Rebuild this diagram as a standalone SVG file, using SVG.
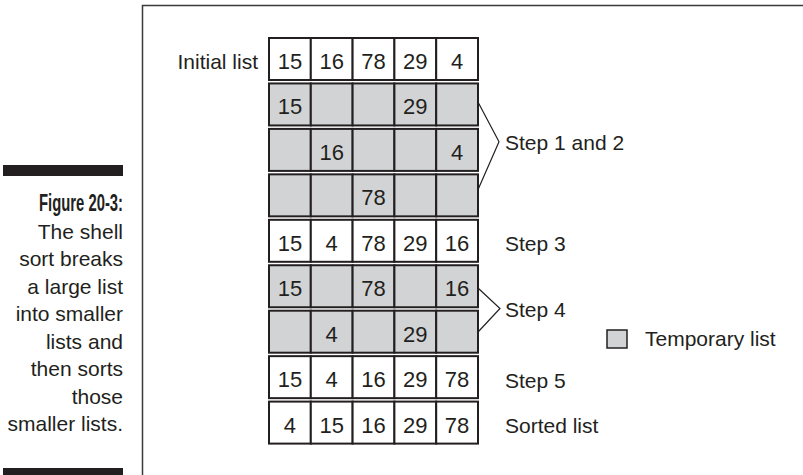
<svg xmlns="http://www.w3.org/2000/svg" width="803" height="475" viewBox="0 0 803 475">
<style>
  text { font-family: "Liberation Sans", Arial, sans-serif; fill: #231f20; }
  .num { font-size: 22px; text-anchor: middle; }
  .lbl { font-size: 21px; }
  .cap { font-size: 21px; text-anchor: end; }
  .capb { font-size: 23px; text-anchor: end; font-weight: bold; }
  .cell { fill: #ffffff; stroke: #231f20; stroke-width: 2; }
  .tmp { fill: #d1d3d4; stroke: #231f20; stroke-width: 2; }
  .br { fill: none; stroke: #231f20; stroke-width: 1.2; }
  .bar { fill: #231f20; }
</style>
<rect x="0" y="0" width="803" height="475" fill="#ffffff"/>
<rect x="142.5" y="5.5" width="700" height="500" fill="none" stroke="#3a3a3a" stroke-width="1.5"/>

<g id="caption">
  <rect class="bar" x="3" y="165" width="120" height="11"/>
  <rect class="bar" x="3" y="468" width="120" height="10"/>
  <text class="capb" x="123" y="211" textLength="84" lengthAdjust="spacingAndGlyphs">Figure 20-3:</text>
  <text class="cap" x="123" y="238.5">The shell</text>
  <text class="cap" x="123" y="266">sort breaks</text>
  <text class="cap" x="123" y="293.5">a large list</text>
  <text class="cap" x="123" y="321">into smaller</text>
  <text class="cap" x="123" y="348.5">lists and</text>
  <text class="cap" x="123" y="376">then sorts</text>
  <text class="cap" x="123" y="403.5">those</text>
  <text class="cap" x="123" y="431">smaller lists.</text>
</g>

<g id="row-initial">
  <text class="lbl" x="258" y="69" text-anchor="end">Initial list</text>
  <rect class="cell" x="269" y="38" width="41.8" height="42"/>
  <rect class="cell" x="310.8" y="38" width="41.8" height="42"/>
  <rect class="cell" x="352.6" y="38" width="41.8" height="42"/>
  <rect class="cell" x="394.4" y="38" width="41.8" height="42"/>
  <rect class="cell" x="436.2" y="38" width="41.8" height="42"/>
  <text class="num" x="289.9" y="69">15</text>
  <text class="num" x="331.7" y="69">16</text>
  <text class="num" x="373.5" y="69">78</text>
  <text class="num" x="415.3" y="69">29</text>
  <text class="num" x="457.1" y="69">4</text>
</g>

<g id="row-temp1">
  <rect class="tmp" x="269" y="83.45" width="41.8" height="42"/>
  <rect class="tmp" x="310.8" y="83.45" width="41.8" height="42"/>
  <rect class="tmp" x="352.6" y="83.45" width="41.8" height="42"/>
  <rect class="tmp" x="394.4" y="83.45" width="41.8" height="42"/>
  <rect class="tmp" x="436.2" y="83.45" width="41.8" height="42"/>
  <text class="num" x="289.9" y="114.45">15</text>
  <text class="num" x="415.3" y="114.45">29</text>
</g>

<g id="row-temp2">
  <rect class="tmp" x="269" y="128.9" width="41.8" height="42"/>
  <rect class="tmp" x="310.8" y="128.9" width="41.8" height="42"/>
  <rect class="tmp" x="352.6" y="128.9" width="41.8" height="42"/>
  <rect class="tmp" x="394.4" y="128.9" width="41.8" height="42"/>
  <rect class="tmp" x="436.2" y="128.9" width="41.8" height="42"/>
  <text class="num" x="331.7" y="159.9">16</text>
  <text class="num" x="457.1" y="159.9">4</text>
</g>

<g id="row-temp3">
  <rect class="tmp" x="269" y="174.35" width="41.8" height="42"/>
  <rect class="tmp" x="310.8" y="174.35" width="41.8" height="42"/>
  <rect class="tmp" x="352.6" y="174.35" width="41.8" height="42"/>
  <rect class="tmp" x="394.4" y="174.35" width="41.8" height="42"/>
  <rect class="tmp" x="436.2" y="174.35" width="41.8" height="42"/>
  <text class="num" x="373.5" y="205.35">78</text>
</g>

<g id="row-step3">
  <rect class="cell" x="269" y="219.8" width="41.8" height="42"/>
  <rect class="cell" x="310.8" y="219.8" width="41.8" height="42"/>
  <rect class="cell" x="352.6" y="219.8" width="41.8" height="42"/>
  <rect class="cell" x="394.4" y="219.8" width="41.8" height="42"/>
  <rect class="cell" x="436.2" y="219.8" width="41.8" height="42"/>
  <text class="num" x="289.9" y="250.8">15</text>
  <text class="num" x="331.7" y="250.8">4</text>
  <text class="num" x="373.5" y="250.8">78</text>
  <text class="num" x="415.3" y="250.8">29</text>
  <text class="num" x="457.1" y="250.8">16</text>
  <text class="lbl" x="505" y="251">Step 3</text>
</g>

<g id="row-temp4">
  <rect class="tmp" x="269" y="265.25" width="41.8" height="42"/>
  <rect class="tmp" x="310.8" y="265.25" width="41.8" height="42"/>
  <rect class="tmp" x="352.6" y="265.25" width="41.8" height="42"/>
  <rect class="tmp" x="394.4" y="265.25" width="41.8" height="42"/>
  <rect class="tmp" x="436.2" y="265.25" width="41.8" height="42"/>
  <text class="num" x="289.9" y="296.25">15</text>
  <text class="num" x="373.5" y="296.25">78</text>
  <text class="num" x="457.1" y="296.25">16</text>
</g>

<g id="row-temp5">
  <rect class="tmp" x="269" y="310.7" width="41.8" height="42"/>
  <rect class="tmp" x="310.8" y="310.7" width="41.8" height="42"/>
  <rect class="tmp" x="352.6" y="310.7" width="41.8" height="42"/>
  <rect class="tmp" x="394.4" y="310.7" width="41.8" height="42"/>
  <rect class="tmp" x="436.2" y="310.7" width="41.8" height="42"/>
  <text class="num" x="331.7" y="341.7">4</text>
  <text class="num" x="415.3" y="341.7">29</text>
</g>

<g id="row-step5">
  <rect class="cell" x="269" y="356.15" width="41.8" height="42"/>
  <rect class="cell" x="310.8" y="356.15" width="41.8" height="42"/>
  <rect class="cell" x="352.6" y="356.15" width="41.8" height="42"/>
  <rect class="cell" x="394.4" y="356.15" width="41.8" height="42"/>
  <rect class="cell" x="436.2" y="356.15" width="41.8" height="42"/>
  <text class="num" x="289.9" y="387.15">15</text>
  <text class="num" x="331.7" y="387.15">4</text>
  <text class="num" x="373.5" y="387.15">16</text>
  <text class="num" x="415.3" y="387.15">29</text>
  <text class="num" x="457.1" y="387.15">78</text>
  <text class="lbl" x="505" y="388">Step 5</text>
</g>

<g id="row-sorted">
  <rect class="cell" x="269" y="401.6" width="41.8" height="42"/>
  <rect class="cell" x="310.8" y="401.6" width="41.8" height="42"/>
  <rect class="cell" x="352.6" y="401.6" width="41.8" height="42"/>
  <rect class="cell" x="394.4" y="401.6" width="41.8" height="42"/>
  <rect class="cell" x="436.2" y="401.6" width="41.8" height="42"/>
  <text class="num" x="289.9" y="432.6">4</text>
  <text class="num" x="331.7" y="432.6">15</text>
  <text class="num" x="373.5" y="432.6">16</text>
  <text class="num" x="415.3" y="432.6">29</text>
  <text class="num" x="457.1" y="432.6">78</text>
  <text class="lbl" x="505" y="432.5">Sorted list</text>
</g>

<g id="connectors">
  <polyline class="br" points="478.5,103 499,141.7 478.5,188.5"/>
  <polyline class="br" points="478.5,288.5 500,308.5 478.5,331.5"/>
</g>

<g id="step12-label">
  <text class="lbl" x="505" y="150">Step 1 and 2</text>
</g>
<g id="step4-label">
  <text class="lbl" x="505" y="316.5">Step 4</text>
</g>

<g id="legend">
  <rect x="607" y="330" width="20" height="18" fill="#d1d3d4" stroke="#231f20" stroke-width="1.5"/>
  <text class="lbl" x="645" y="346">Temporary list</text>
</g>
</svg>
